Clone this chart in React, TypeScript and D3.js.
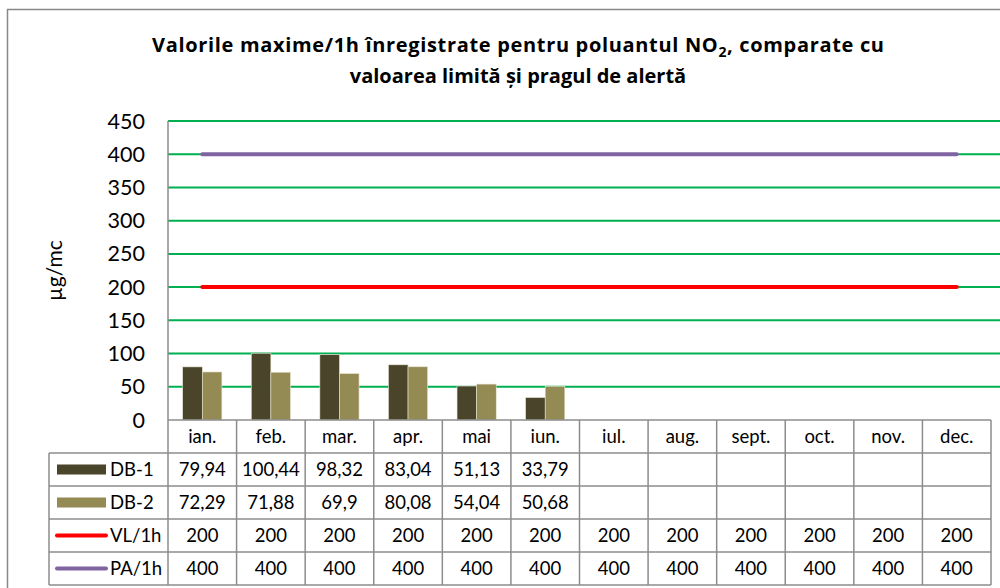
import React from "react";
import * as d3 from "d3";

const months = ["ian.", "feb.", "mar.", "apr.", "mai", "iun.", "iul.", "aug.", "sept.", "oct.", "nov.", "dec."];
const db1 = [79.94, 100.44, 98.32, 83.04, 51.13, 33.79, null, null, null, null, null, null];
const db2 = [72.29, 71.88, 69.9, 80.08, 54.04, 50.68, null, null, null, null, null, null];
const vl = [200, 200, 200, 200, 200, 200, 200, 200, 200, 200, 200, 200];
const pa = [400, 400, 400, 400, 400, 400, 400, 400, 400, 400, 400, 400];
const yTicks = [0, 50, 100, 150, 200, 250, 300, 350, 400, 450];

const font = "Lato, 'Open Sans', sans-serif";
const titleFont = "'Open Sans', Lato, sans-serif";

export default function App() {
  const width = 1000;
  const height = 588;
  const left = 168;
  const right = 991;
  const top = 121;
  const bottom = 420;

  const x = d3.scaleBand<string>().domain(months).range([left, right]);
  const inner = d3.scaleBand<string>().domain(["DB-1", "DB-2"]).range([0, x.bandwidth()]).paddingOuter(0.75);
  const y = d3.scaleLinear().domain([0, 450]).range([bottom, top]);

  const fmt = (v: number | null) => (v == null ? "" : String(v).replace(".", ","));

  const line = d3
    .line<number>()
    .x((_, i) => x(months[i])! + x.bandwidth() / 2)
    .y((d) => y(d));

  const series = [
    { name: "DB-1", values: db1, color: "#4a442a", kind: "bar" },
    { name: "DB-2", values: db2, color: "#948a54", kind: "bar" },
    { name: "VL/1h", values: vl, color: "#ff0000", kind: "line" },
    { name: "PA/1h", values: pa, color: "#8064a2", kind: "line" },
  ];

  const tableLeft = 49;
  const headerH = 33;
  const rowH = 33;
  const rowsTop = bottom + headerH;
  const tableBottom = rowsTop + rowH * series.length;
  const grid = "#8c8c8c";

  return (
    <svg width={width} height={height} style={{ position: "absolute", left: 0, top: 0 }}>
      <rect x={7.5} y={9.5} width={1010} height={600} fill="#fff" stroke="#888" strokeWidth={1.5} />

      <text x={518} y={52} textAnchor="middle" fontFamily={titleFont} fontWeight="bold" fontSize={20} fill="#000" textLength={732} lengthAdjust="spacing">
        Valorile maxime/1h înregistrate pentru poluantul NO
        <tspan fontSize={14} dy={5}>2</tspan>
        <tspan dy={-5}>, comparate cu</tspan>
      </text>
      <text x={518} y={83} textAnchor="middle" fontFamily={titleFont} fontWeight="bold" fontSize={20} fill="#000">
        valoarea limită și pragul de alertă
      </text>

      {yTicks.map((t) => (
        <g key={t}>
          {t > 0 && <line x1={left} x2={width} y1={y(t)} y2={y(t)} stroke="#00b050" strokeWidth={2} />}
          <text x={145} y={y(t) + 7.5} textAnchor="end" fontFamily={font} fontSize={21.5} fill="#000">
            {t}
          </text>
        </g>
      ))}

      <text
        transform={`translate(62, ${(top + bottom) / 2}) rotate(-90)`}
        textAnchor="middle"
        fontFamily={font}
        fontSize={21}
        fill="#000"
      >
        µg/mc
      </text>

      {months.map((m, i) => (
        <g key={m}>
          {[db1[i], db2[i]].map((v, j) =>
            v == null ? null : (
              <rect
                key={j}
                x={x(m)! + inner(j === 0 ? "DB-1" : "DB-2")!}
                y={y(v)}
                width={inner.bandwidth()}
                height={bottom - y(v)}
                fill={series[j].color}
                stroke="#e8e4d0"
                strokeWidth={0.6}
              />
            )
          )}
        </g>
      ))}

      <line x1={left} x2={left} y1={top} y2={bottom} stroke={grid} strokeWidth={1.5} />

      {series
        .filter((s) => s.kind === "line")
        .map((s) => (
          <path
            key={s.name}
            d={line(s.values as number[])!}
            fill="none"
            stroke={s.color}
            strokeWidth={4}
            strokeLinecap="round"
          />
        ))}

      {/* data table */}
      <g stroke={grid} strokeWidth={1.5}>
        <line x1={left} x2={right} y1={bottom} y2={bottom} />
        {series.map((s, i) => (
          <line key={s.name} x1={tableLeft} x2={right} y1={rowsTop + rowH * i} y2={rowsTop + rowH * i} />
        ))}
        <line x1={tableLeft} x2={right} y1={tableBottom} y2={tableBottom} />
        <line x1={tableLeft} x2={tableLeft} y1={rowsTop} y2={tableBottom} />
        {months.map((m) => (
          <line key={m} x1={x(m)!} x2={x(m)!} y1={bottom} y2={tableBottom} />
        ))}
        <line x1={right} x2={right} y1={bottom} y2={tableBottom} />
      </g>

      {months.map((m) => (
        <text
          key={m}
          x={x(m)! + x.bandwidth() / 2}
          y={bottom + 23}
          textAnchor="middle"
          fontFamily={font}
          fontSize={18.5}
          fill="#000"
        >
          {m}
        </text>
      ))}

      {series.map((s, i) => {
        const cy = rowsTop + rowH * i + rowH / 2;
        return (
          <g key={s.name}>
            {s.kind === "bar" ? (
              <rect x={57} y={cy - 5} width={49} height={10} fill={s.color} />
            ) : (
              <line x1={57} x2={106} y1={cy} y2={cy} stroke={s.color} strokeWidth={4} strokeLinecap="round" />
            )}
            <text x={110} y={cy + 6.5} fontFamily={font} fontSize={18.5} fill="#000">
              {s.name}
            </text>
            {months.map((m, j) => (
              <text
                key={m}
                x={x(m)! + x.bandwidth() / 2}
                y={cy + 6.5}
                textAnchor="middle"
                fontFamily={font}
                fontSize={18.5}
                fill="#000"
              >
                {fmt(s.values[j])}
              </text>
            ))}
          </g>
        );
      })}
    </svg>
  );
}
